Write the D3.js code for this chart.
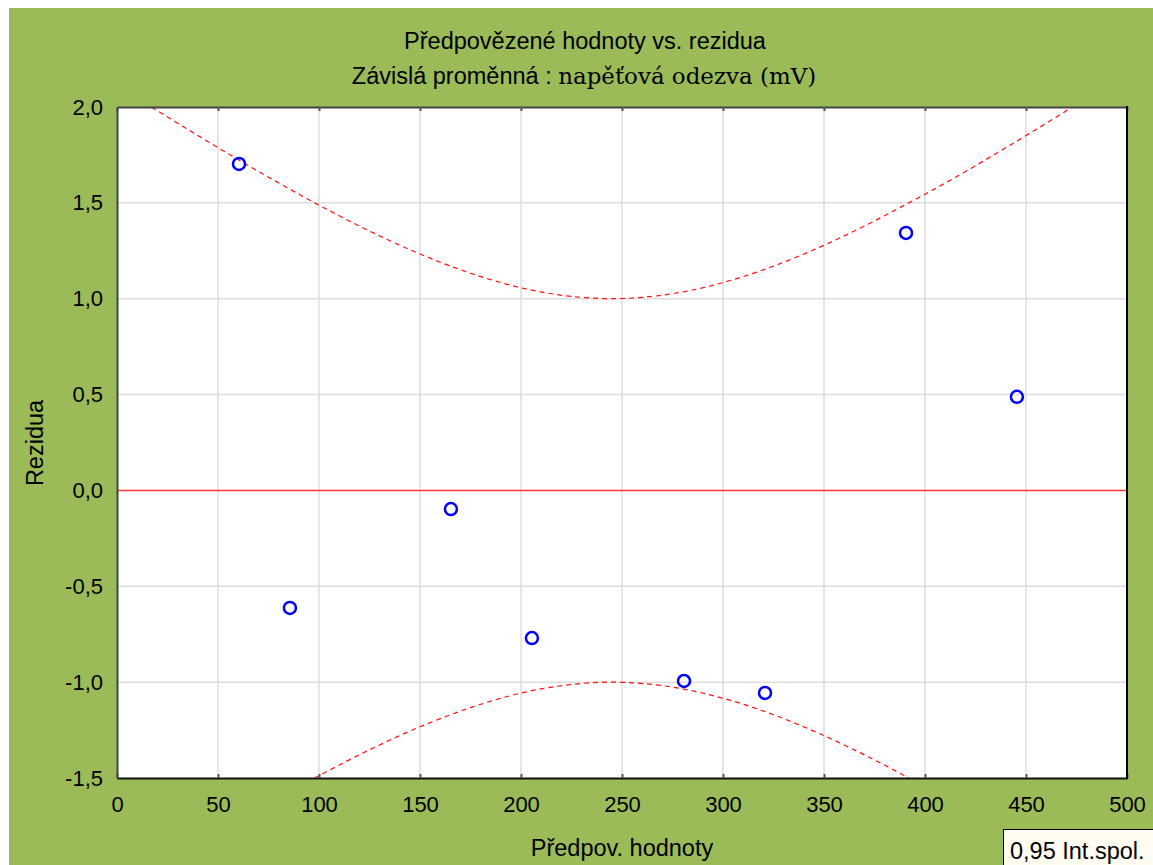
<!DOCTYPE html>
<html>
<head>
<meta charset="utf-8">
<script src="https://cdn.jsdelivr.net/npm/d3@7"></script>
<style>
  body { margin: 0; background: #fff; }
  text { font-family: "Liberation Sans", Arial, sans-serif; fill: #000; }
</style>
</head>
<body>
<svg id="chart"></svg>
<script>
// predicted values vs. residuals
const predicted = [60.4, 85.6, 165.3, 205.4, 280.7, 320.8, 390.6, 445.5];
const residuals = [1.703, -0.613, -0.097, -0.77, -0.994, -1.056, 1.343, 0.488];

// 0.95 confidence band
const bandX = [17, 25, 50, 75, 100, 125, 150, 175, 200, 225, 245, 250, 275, 300, 325, 350, 375, 392, 400, 425, 450, 473];
const bandUpper = [2.0, 1.948, 1.788, 1.634, 1.488, 1.353, 1.233, 1.133, 1.057, 1.012, 1.0, 1.001, 1.026, 1.084, 1.17, 1.279, 1.406, 1.5, 1.545, 1.694, 1.851, 2.0];
const bandLower = bandUpper.map(v => -v);

const xTicks = [0, 50, 100, 150, 200, 250, 300, 350, 400, 450, 500];
const yTicks = [-1.5, -1.0, -0.5, 0.0, 0.5, 1.0, 1.5, 2.0];

const W = 1153, H = 865;
const margin = { left: 117, top: 107, right: 1127, bottom: 778 };

const svg = d3.select('#chart').attr('width', W).attr('height', H);

// green background
svg.append('rect').attr('x', 9).attr('y', 8).attr('width', W - 9).attr('height', H - 8)
  .attr('fill', '#9BBB59');

const x = d3.scaleLinear().domain([0, 500]).range([margin.left, margin.right]);
const y = d3.scaleLinear().domain([-1.5, 2.0]).range([margin.bottom, margin.top]);

svg.append('rect')
  .attr('x', margin.left).attr('y', margin.top)
  .attr('width', margin.right - margin.left).attr('height', margin.bottom - margin.top)
  .attr('fill', '#fff');

svg.append('clipPath').attr('id', 'clip').append('rect')
  .attr('x', margin.left).attr('y', margin.top)
  .attr('width', margin.right - margin.left).attr('height', margin.bottom - margin.top);

// grid
const grid = svg.append('g');
grid.selectAll('.vg').data(xTicks.slice(1, -1)).enter().append('line')
  .attr('x1', d => x(d)).attr('x2', d => x(d))
  .attr('y1', margin.top).attr('y2', margin.bottom)
  .attr('stroke', '#dddddd').attr('stroke-width', 1.5);
grid.selectAll('.hg').data(yTicks.slice(1, -1)).enter().append('line')
  .attr('x1', margin.left).attr('x2', margin.right)
  .attr('y1', d => y(d)).attr('y2', d => y(d))
  .attr('stroke', '#dddddd').attr('stroke-width', 1.5);

const plot = svg.append('g').attr('clip-path', 'url(#clip)');

// zero line
plot.append('line')
  .attr('x1', margin.left).attr('x2', margin.right)
  .attr('y1', y(0)).attr('y2', y(0))
  .attr('stroke', '#ff3b3b').attr('stroke-width', 1.5);

const line = d3.line().x(d => x(d[0])).y(d => y(d[1])).curve(d3.curveMonotoneX);
[bandUpper, bandLower].forEach(b => {
  plot.append('path')
    .datum(bandX.map((v, i) => [v, b[i]]))
    .attr('d', line)
    .attr('fill', 'none')
    .attr('stroke', '#ff1010')
    .attr('stroke-width', 1.2)
    .attr('stroke-dasharray', '5,4');
});

plot.selectAll('circle').data(predicted).enter().append('circle')
  .attr('cx', d => x(d))
  .attr('cy', (d, i) => y(residuals[i]))
  .attr('r', 6)
  .attr('fill', 'none')
  .attr('stroke', '#0000ff')
  .attr('stroke-width', 2.5);

// axes
const fmt = d => d.toFixed(1).replace('.', ',');

const xAxis = svg.append('g')
  .attr('transform', `translate(0,${margin.bottom})`)
  .call(d3.axisBottom(x).tickValues(xTicks).tickSizeInner(-4).tickSizeOuter(0).tickPadding(18));
xAxis.select('.domain').attr('stroke', '#111').attr('stroke-width', 2);
xAxis.selectAll('.tick line').attr('stroke', '#555').attr('stroke-width', 2);
xAxis.selectAll('text').attr('font-size', 22).attr('font-family', 'Liberation Sans, Arial, sans-serif');

const xTop = svg.append('g')
  .attr('transform', `translate(0,${margin.top})`)
  .call(d3.axisTop(x).tickValues(xTicks).tickSizeInner(-4).tickSizeOuter(0).tickFormat(''));
xTop.select('.domain').attr('stroke', '#444').attr('stroke-width', 2);
xTop.selectAll('.tick line').attr('stroke', '#555').attr('stroke-width', 2);

const yAxis = svg.append('g')
  .attr('transform', `translate(${margin.left},0)`)
  .call(d3.axisLeft(y).tickValues(yTicks).tickSizeInner(0).tickSizeOuter(0).tickPadding(14).tickFormat(fmt));
yAxis.select('.domain').attr('stroke', '#444').attr('stroke-width', 2);
yAxis.selectAll('text').attr('font-size', 22).attr('font-family', 'Liberation Sans, Arial, sans-serif');

svg.append('line')
  .attr('x1', margin.right).attr('x2', margin.right)
  .attr('y1', margin.top - 1).attr('y2', margin.bottom + 1)
  .attr('stroke', '#000').attr('stroke-width', 2);

// titles
svg.append('text').attr('x', 585).attr('y', 49).attr('text-anchor', 'middle')
  .attr('font-size', 23.5).text('Předpovězené hodnoty vs. rezidua');

const sub = svg.append('text').attr('x', 584).attr('y', 84).attr('text-anchor', 'middle')
  .attr('font-size', 23.5);
sub.append('tspan').text('Závislá proměnná : ');
sub.append('tspan').attr('font-family', '"DejaVu Serif", "Liberation Serif", serif')
  .attr('font-size', 22).attr('textLength', 258).attr('lengthAdjust', 'spacingAndGlyphs')
  .text('napěťová odezva (mV)');

svg.append('text').attr('x', 622).attr('y', 856).attr('text-anchor', 'middle')
  .attr('font-size', 23.5).text('Předpov. hodnoty');

svg.append('text').attr('transform', 'translate(43,443) rotate(-90)').attr('text-anchor', 'middle')
  .attr('font-size', 23.5).text('Rezidua');

// legend box
svg.append('rect').attr('x', 1003.5).attr('y', 829.5).attr('width', 152).attr('height', 40)
  .attr('fill', '#fffcf2').attr('stroke', '#000').attr('stroke-width', 1);
svg.append('text').attr('x', 1010).attr('y', 859).attr('font-size', 23.5).text('0,95 Int.spol.');
</script>
</body>
</html>
